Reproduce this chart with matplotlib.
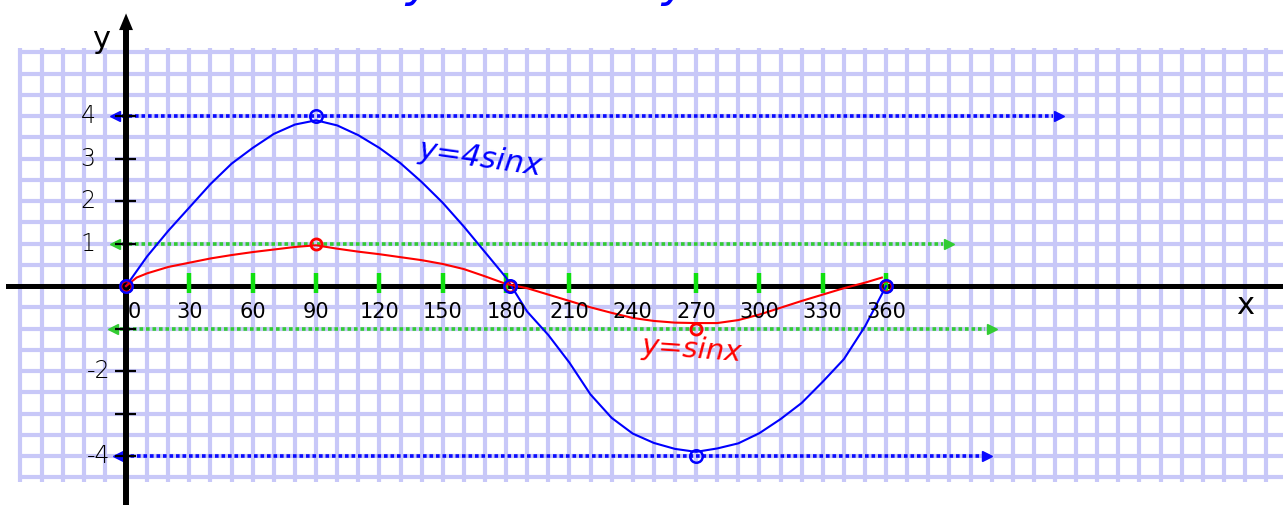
import numpy as np
import matplotlib
matplotlib.use("Agg")
import matplotlib.pyplot as plt

# values (degrees, y)
blue_x = [0, 10, 20, 30, 40, 50, 60, 70, 80, 90, 100, 110, 120, 130, 140, 150, 160, 170,
          180, 190, 200, 210, 220, 230, 240, 250, 260, 270, 280, 290, 300, 310, 320, 330,
          340, 350, 360]
blue_y = [0, 0.7, 1.3, 1.85, 2.4, 2.88, 3.25, 3.58, 3.8, 3.9, 3.78, 3.55, 3.25, 2.89, 2.45,
          1.96, 1.4, 0.8, 0.2, -0.6, -1.15, -1.8, -2.55, -3.1, -3.47, -3.69, -3.83, -3.9,
          -3.82, -3.7, -3.46, -3.13, -2.75, -2.25, -1.72, -0.95, 0]

red_x = [0, 5, 10, 20, 30, 40, 50, 60, 70, 80, 90, 100, 110, 120, 130, 140, 150, 160, 170,
         180, 190, 200, 210, 220, 230, 240, 250, 260, 270, 280, 290, 300, 310, 320, 330,
         340, 350, 358]
red_y = [0, 0.2, 0.3, 0.45, 0.55, 0.65, 0.73, 0.8, 0.86, 0.92, 0.96, 0.88, 0.81, 0.75, 0.68,
         0.61, 0.52, 0.4, 0.23, 0.05, -0.05, -0.2, -0.35, -0.5, -0.63, -0.75, -0.82, -0.86,
         -0.87, -0.87, -0.8, -0.67, -0.51, -0.35, -0.2, -0.05, 0.08, 0.2]

key_x = [0, 90, 182, 270, 360]
blue_key = [0, 4, 0, -4, 0]
red_key = [0, 1, 0, -1, 0]

x_labels = [0, 30, 60, 90, 120, 150, 180, 210, 240, 270, 300, 330, 360]
green_ticks = [30, 60, 90, 120, 150, 180, 210, 270, 300, 330, 360]
y_ticks = [4, 3, 2, 1, -1, -2, -3, -4]
y_labels = {4: "4", 3: "3", 2: "2", 1: "1", -2: "-2", -4: "-4"}

# dotted guide lines: (y, x start, x end, colour)
guides = [(4, -5, 442, "#0a0aff"), (1, -5, 390, "#33cc33"),
          (-1, -6, 410, "#33cc33"), (-4, -4, 408, "#0a0aff")]

fig = plt.figure(figsize=(12.83, 5.05), dpi=100)
ax = fig.add_axes([0, 0, 1, 1])
ax.set_xlim(-59.7, 548)
ax.set_ylim(-5.15, 6.73)
ax.axis("off")

# graph paper
gx = np.arange(-50, 550, 10)
gy = np.arange(-4.5, 5.51, 0.5)
ax.vlines(gx, -4.6, 5.6, color="#c8c8f8", lw=3.0, zorder=1)
ax.hlines(gy, -51, 548, color="#c8c8f8", lw=3.0, zorder=1)

# guide lines with arrow heads
for gyv, x0, x1, c in guides:
    ax.plot([x0 + 3, x1 - 3], [gyv, gyv], color=c, lw=2.6,
            linestyle=(0, (1, 0.8)), zorder=3)
    ax.plot([x0], [gyv], marker="<", color=c, ms=7, zorder=3)
    ax.plot([x1], [gyv], marker=">", color=c, ms=7, zorder=3)

# axes
ax.plot([-56, 548], [0, 0], color="black", lw=3.6, zorder=4)
ax.plot([0, 0], [-5.2, 6.1], color="black", lw=4.3, zorder=4)
ax.annotate("", xy=(0, 6.48), xytext=(0, 6.0),
            arrowprops=dict(arrowstyle="-|>,head_length=1.2,head_width=0.5",
                            color="black", lw=0), zorder=4)
ax.hlines(y_ticks, -5, 4.5, color="black", lw=1.6, zorder=4)
ax.vlines(green_ticks, -0.16, 0.31, color="#11e011", lw=3.2, zorder=4)

# curves
ax.plot(blue_x, blue_y, color="#0000ff", lw=1.5, zorder=5, solid_joinstyle="round")
ax.plot(red_x, red_y, color="#ff0000", lw=1.5, zorder=5, solid_joinstyle="round")
ax.plot(key_x, red_key, "o", mfc="none", mec="#ff0000", mew=2, ms=8, zorder=6)
ax.plot(key_x, blue_key, "o", mfc="none", mec="#0000ff", mew=1.8, ms=9, zorder=6)

# labels
for v in x_labels:
    ax.text(v + (4 if v == 0 else 0), -0.6, str(v), fontsize=15,
            ha="center", va="center", color="black", zorder=7)
for v, s in y_labels.items():
    ax.text(-18 + (5 if v < 0 else 0), v, s, fontsize=17, ha="center",
            va="center", color="black", fontweight="light", zorder=7)
ax.text(-12, 5.8, "y", fontsize=22, ha="center", va="center", zorder=7)
ax.text(530, -0.45, "x", fontsize=22, ha="center", va="center", zorder=7)

ax.text(168, 3.0, "y=4sinx", fontsize=22, color="#0000ff", rotation=-8,
        ha="center", va="center", style="italic", fontweight="light", zorder=7)
ax.text(268, -1.5, "y=sinx", fontsize=21, color="#ff0000", rotation=-4,
        ha="center", va="center", style="italic", fontweight="light", zorder=7)

# cut-off title strokes at top edge
fig.text(0.327, 1.008, "y", fontsize=34, color="#0000ff", ha="center",
         va="baseline", style="italic")
fig.text(0.526, 1.008, "y", fontsize=34, color="#0000ff", ha="center",
         va="baseline", style="italic")

fig.savefig("out.png", dpi=100)
